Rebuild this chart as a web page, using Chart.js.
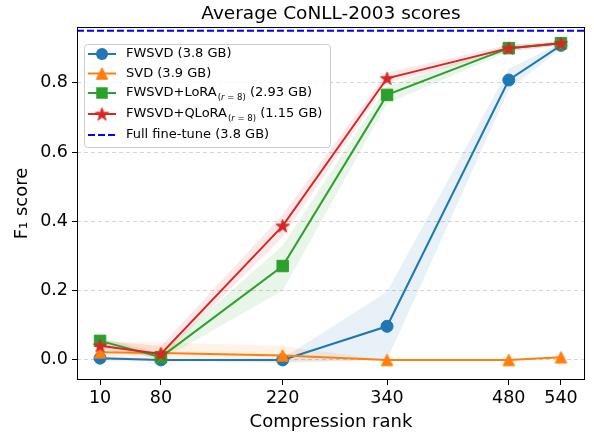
<!DOCTYPE html>
<html><head><meta charset="utf-8">
<script src="https://cdn.jsdelivr.net/npm/chart.js@4.4.0/dist/chart.umd.min.js"></script>
<style>html,body{margin:0;padding:0;background:#fff}#wrap{width:594px;height:435px}</style>
</head><body><div id="wrap"><canvas id="c" width="594" height="435"></canvas></div>
<script>
// ---------- data ----------
const ranks = [10, 80, 220, 340, 480, 540];
const xTicks = [10, 80, 220, 340, 480, 540];
const yTicks = [0.0, 0.2, 0.4, 0.6, 0.8];

const fwsvd      = [0.005, 0.000, 0.000, 0.097, 0.808, 0.908];
const fwsvdLo    = [0.000, -0.002, -0.005, 0.000, 0.780, 0.898];
const fwsvdHi    = [0.010, 0.002, 0.005, 0.197, 0.840, 0.916];

const svd        = [0.022, 0.020, 0.013, 0.000, 0.000, 0.008];
const svdLo      = [-0.005, -0.005, -0.010, 0.000, 0.000, 0.005];
const svdHi      = [0.055, 0.050, 0.040, 0.000, 0.000, 0.012];

const lora       = [0.055, 0.008, 0.271, 0.765, 0.900, 0.914];
const loraLo     = [0.045, 0.000, 0.200, 0.740, 0.890, 0.908];
const loraHi     = [0.065, 0.020, 0.330, 0.790, 0.910, 0.920];

const qlora      = [0.041, 0.017, 0.387, 0.813, 0.900, 0.914];
const qloraLo    = [0.030, 0.005, 0.355, 0.800, 0.890, 0.908];
const qloraHi    = [0.055, 0.040, 0.420, 0.830, 0.910, 0.920];

const fullFineTune = 0.95;

const legendMain   = ['FWSVD', 'SVD', 'FWSVD+LoRA', 'FWSVD+QLoRA', 'Full fine-tune'];
const legendSub    = ['', '', '(r = 8)', '(r = 8)', ''];
const legendSuffix = [' (3.8 GB)', ' (3.9 GB)', ' (2.93 GB)', ' (1.15 GB)', ' (3.8 GB)'];

const titleText = 'Average CoNLL-2003 scores';
const xTitle = 'Compression rank';
const yTitle = 'F\u2081 score';
const xLimits = [-16.5, 567.5];
const yLimits = [-0.058, 0.961];

// ---------- styles ----------
const FONT = '"DejaVu Sans", Verdana, sans-serif';
const C_BLUE = '#1f77b4', C_ORANGE = '#ff7f0e', C_GREEN = '#2ca02c', C_RED = '#d62728';
const alpha = (hex, a) => {
  const n = parseInt(hex.slice(1), 16);
  return `rgba(${(n>>16)&255},${(n>>8)&255},${n&255},${a})`;
};

function makeTriangle(color, s) {
  const c = document.createElement('canvas');
  const size = Math.ceil(s + 3);
  c.width = size; c.height = size;
  const g = c.getContext('2d');
  const cx = size / 2, cy = size / 2, h = s / 2;
  g.beginPath();
  g.moveTo(cx, cy - h); g.lineTo(cx - h, cy + h); g.lineTo(cx + h, cy + h); g.closePath();
  g.fillStyle = color; g.fill();
  g.lineWidth = 1; g.strokeStyle = color; g.stroke();
  return c;
}
function makeStar(color, R) {
  const c = document.createElement('canvas');
  const size = Math.ceil(2 * R + 3);
  c.width = size; c.height = size;
  const g = c.getContext('2d');
  const cx = size / 2, cy = size / 2 + R * 0.08, r = R * 0.381;
  g.beginPath();
  for (let i = 0; i < 10; i++) {
    const a = -Math.PI / 2 + i * Math.PI / 5;
    const rr = i % 2 === 0 ? R : r;
    const px = cx + rr * Math.cos(a), py = cy + rr * Math.sin(a);
    if (i === 0) g.moveTo(px, py); else g.lineTo(px, py);
  }
  g.closePath();
  g.fillStyle = color; g.fill();
  g.lineWidth = 1; g.strokeStyle = color; g.stroke();
  return c;
}
const triImg = makeTriangle(C_ORANGE, 11.5);
const starImg = makeStar(C_RED, 7);

const pts = arr => ranks.map((x, i) => ({ x, y: arr[i] }));

function bandPair(lo, hi, color) {
  return [
    { data: pts(lo), borderWidth: 0, pointRadius: 0, fill: false, order: 20, showLine: true, borderColor: 'rgba(0,0,0,0)' },
    { data: pts(hi), borderWidth: 0, pointRadius: 0, fill: '-1', order: 20, showLine: true,
      borderColor: 'rgba(0,0,0,0)', backgroundColor: alpha(color, 0.1) }
  ];
}
function lineDs(arr, color, style, radius, order) {
  return { data: pts(arr), borderColor: color, backgroundColor: color, borderWidth: 2,
    pointStyle: style, pointRadius: radius, pointHoverRadius: radius, pointBorderColor: color,
    pointBackgroundColor: color, pointBorderWidth: 1, fill: false, tension: 0, order };
}

const datasets = [
  ...bandPair(fwsvdLo, fwsvdHi, C_BLUE),
  ...bandPair(svdLo, svdHi, C_ORANGE),
  ...bandPair(loraLo, loraHi, C_GREEN),
  ...bandPair(qloraLo, qloraHi, C_RED),
  lineDs(fwsvd, C_BLUE, 'circle', 6, 4),
  lineDs(svd, C_ORANGE, triImg, 6, 3),
  lineDs(lora, C_GREEN, 'rect', 8.1, 2),
  lineDs(qlora, C_RED, starImg, 7, 1),
  { data: [{ x: xLimits[0], y: fullFineTune }, { x: xLimits[1], y: fullFineTune }],
    borderColor: '#0000ff', borderWidth: 2, borderDash: [7, 3], pointRadius: 0, fill: false, order: 0 }
];

// ---------- plugins ----------
const framePlugin = {
  id: 'frame',
  afterDraw(chart) {
    const { ctx, chartArea: a } = chart;
    ctx.save();
    ctx.setLineDash([]);
    ctx.strokeStyle = '#000'; ctx.lineWidth = 1;
    ctx.strokeRect(Math.round(a.left) + 0.5, Math.round(a.top) + 0.5,
      Math.round(a.right - a.left) - 1, Math.round(a.bottom - a.top) - 1);
    ctx.restore();
  }
};

const markers = ['circle', 'tri', 'square', 'star', 'none'];
const colors = [C_BLUE, C_ORANGE, C_GREEN, C_RED, '#0000ff'];
const rowY = [54, 73.5, 93, 114, 135];

const legendPlugin = {
  id: 'mplLegend',
  afterDraw(chart) {
    const ctx = chart.ctx;
    ctx.save();
    const bx = 84.5, by = 44.5, bw = 246, bh = 103, r = 3;
    ctx.beginPath();
    ctx.moveTo(bx + r, by); ctx.lineTo(bx + bw - r, by); ctx.arcTo(bx + bw, by, bx + bw, by + r, r);
    ctx.lineTo(bx + bw, by + bh - r); ctx.arcTo(bx + bw, by + bh, bx + bw - r, by + bh, r);
    ctx.lineTo(bx + r, by + bh); ctx.arcTo(bx, by + bh, bx, by + bh - r, r);
    ctx.lineTo(bx, by + r); ctx.arcTo(bx, by, bx + r, by, r); ctx.closePath();
    ctx.fillStyle = 'rgba(255,255,255,0.8)'; ctx.fill();
    ctx.strokeStyle = '#cccccc'; ctx.lineWidth = 1; ctx.stroke();

    legendMain.forEach((name, i) => {
      const y = rowY[i], col = colors[i];
      ctx.strokeStyle = col; ctx.lineWidth = 2;
      ctx.setLineDash(markers[i] === 'none' ? [7, 3] : []);
      ctx.beginPath(); ctx.moveTo(88, y); ctx.lineTo(116, y); ctx.stroke();
      ctx.setLineDash([]);
      const mx = 102;
      ctx.fillStyle = col;
      if (markers[i] === 'circle') { ctx.beginPath(); ctx.arc(mx, y, 6, 0, Math.PI * 2); ctx.fill(); }
      else if (markers[i] === 'tri') ctx.drawImage(triImg, mx - triImg.width / 2, y - triImg.height / 2);
      else if (markers[i] === 'square') ctx.fillRect(mx - 5.75, y - 5.75, 11.5, 11.5);
      else if (markers[i] === 'star') ctx.drawImage(starImg, mx - starImg.width / 2, y - starImg.height / 2);

      ctx.fillStyle = '#000'; ctx.textBaseline = 'middle'; ctx.textAlign = 'left';
      let x = 126;
      ctx.font = '13px ' + FONT;
      ctx.fillText(name, x, y); x += ctx.measureText(name).width;
      if (legendSub[i]) {
        const sub = legendSub[i];
        const sy = y + 4.5;
        const parts = [['(', 'normal'], ['r', 'italic'], [sub.slice(2), 'normal']];
        x += 1;
        parts.forEach(([t, st]) => {
          ctx.font = (st === 'italic' ? 'italic ' : '') + '8.5px ' + FONT;
          ctx.fillText(t, x, sy); x += ctx.measureText(t).width;
        });
        ctx.font = '13px ' + FONT;
      }
      ctx.fillText(legendSuffix[i], x, y);
    });
    ctx.restore();
  }
};

// ---------- chart ----------
new Chart(document.getElementById('c'), {
  type: 'line',
  data: { datasets },
  options: {
    responsive: false, animation: false, devicePixelRatio: 1,
    layout: { padding: { left: 0, right: 2, top: 0, bottom: 0 } },
    plugins: {
      legend: { display: false }, tooltip: { enabled: false },
      title: { display: true, text: titleText, fullSize: false, color: '#000',
        font: { family: FONT, size: 18.5, weight: 'normal' }, padding: { top: 3, bottom: 1.8 } }
    },
    scales: {
      x: {
        type: 'linear', min: xLimits[0], max: xLimits[1],
        afterBuildTicks: s => { s.ticks = xTicks.map(v => ({ value: v })); },
        afterFit: s => { s.height = 55; },
        ticks: { color: '#000', font: { family: FONT, size: 17.5 }, padding: 3, maxRotation: 0,
          callback: v => String(v) },
        grid: { drawOnChartArea: false, tickLength: 5, tickColor: '#000', tickWidth: 1, tickBorderDash: [] },
        border: { display: false },
        title: { display: true, text: xTitle, color: '#000', font: { family: FONT, size: 18 },
          padding: { top: 0, bottom: 2 } }
      },
      y: {
        type: 'linear', min: yLimits[0], max: yLimits[1],
        afterBuildTicks: s => { s.ticks = yTicks.map(v => ({ value: v })); },
        afterFit: s => { s.width = 77; },
        ticks: { color: '#000', font: { family: FONT, size: 17.5 }, padding: 4,
          callback: v => Number(v).toFixed(1) },
        grid: { drawOnChartArea: true, color: '#d4d4d4', lineWidth: 1, tickLength: 5,
          tickColor: '#000', tickWidth: 1, tickBorderDash: [] },
        border: { display: false, dash: [4, 3] },
        title: { display: true, text: yTitle, color: '#000', font: { family: FONT, size: 18 },
          padding: { top: 12, bottom: 2 } }
      }
    }
  },
  plugins: [framePlugin, legendPlugin]
});
</script></body></html>
